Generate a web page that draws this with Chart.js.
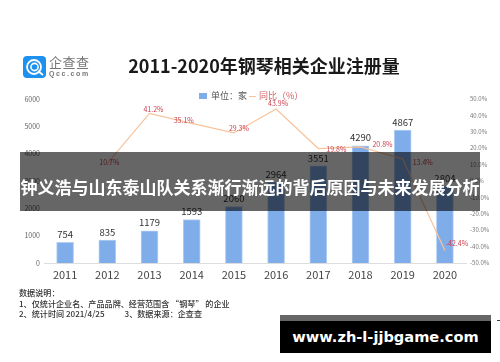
<!DOCTYPE html>
<html lang="zh-CN">
<head>
    <meta charset="UTF-8">
    <title>2011-2020年钢琴相关企业注册量</title>
    <script src="https://cdn.jsdelivr.net/npm/chart.js"></script>
    <style>
        html, body { margin: 0; padding: 0; background: #fff; }
        body { width: 500px; height: 362px; position: relative; overflow: hidden; font-family: "Noto Sans CJK SC", sans-serif; }
        #soft { position: absolute; left: 0; top: 0; width: 500px; height: 362px; filter: blur(0.5px); }
        #chartBox { position: absolute; left: 0; top: 0; width: 500px; height: 362px; }
        #logo { position: absolute; left: 23px; top: 56px; }
        #logoName { position: absolute; left: 49px; top: 54px; font-size: 13px; line-height: 16px; color: #777; letter-spacing: 0.5px; }
        #logoUrl { position: absolute; left: 49px; top: 69px; font: bold 7px/9px "Liberation Sans", sans-serif; color: #777; letter-spacing: 1.6px; }
        #title { position: absolute; left: 64px; top: 52px; width: 400px; text-align: center; font-size: 18px; line-height: 26px; font-weight: 700; color: #1a1a1a; white-space: nowrap; }
        #legend { position: absolute; left: 0; top: 89px; width: 500px; height: 14px; font-size: 9px; line-height: 14px; white-space: nowrap; }
        #legend span, #legend i { position: absolute; }
        #legendBox { left: 199px; top: 4px; width: 8px; height: 6px; background: #7fadea; }
        #legendBar { left: 211px; color: #555; }
        #legendDash { left: 249px; top: 7px; width: 7px; height: 1px; background: #f8c39b; }
        #legendYoy { left: 259px; color: #d0605f; }
        #notes { position: absolute; left: 19px; top: 288px; font-size: 8.1px; line-height: 10.5px; font-weight: 500; color: #333; white-space: pre; }
        #band { position: absolute; left: 20px; top: 152px; width: 460px; height: 59px; background: rgba(0, 0, 0, 0.6); color: #fff; font-size: 17px; font-weight: 700; line-height: 70px; text-align: center; white-space: nowrap; }
        #site { position: absolute; left: 280px; top: 315px; width: 211px; height: 38px; background: #000; border-top: 6px solid #666; box-sizing: border-box; color: #fff; font: bold 14.6px/32px "DejaVu Sans", sans-serif; text-align: center; white-space: nowrap; }
        #speck { position: absolute; left: 497px; top: 320px; width: 3px; height: 1px; background: #345; }
    </style>
</head>
<body>
    <div id="soft">
        <div id="chartBox"><canvas id="registerChart"></canvas></div>
        <svg id="logo" width="23" height="22" viewBox="0 0 23 22">
            <rect width="23" height="22" rx="4" fill="#1e90ee"/>
            <circle cx="11" cy="11" r="7" fill="none" stroke="#fff" stroke-width="1.8"/>
            <circle cx="11.5" cy="11" r="3.6" fill="none" stroke="#fff" stroke-width="1.6"/>
            <path d="M15 15 L20 19" stroke="#fff" stroke-width="1.8"/>
        </svg>
        <div id="logoName">企查查</div>
        <div id="logoUrl">Qcc.com</div>
        <div id="title">2011-2020年钢琴相关企业注册量</div>
        <div id="legend">
            <i id="legendBox"></i><span id="legendBar">单位：家</span>
            <i id="legendDash"></i><span id="legendYoy">同比（%）</span>
        </div>
        <div id="notes">数据说明：
1、仅统计企业名、产品品牌、经营范围含 “钢琴” 的企业
2、统计时间 2021/4/25           3、数据来源：企查查</div>
    </div>
    <div id="band">钟义浩与山东泰山队关系渐行渐远的背后原因与未来发展分析</div>
    <div id="site">www.zh-l-jjbgame.com</div>
    <div id="speck"></div>

    <script>
        const years = ['2011', '2012', '2013', '2014', '2015', '2016', '2017', '2018', '2019', '2020'];
        const registered = [754, 835, 1179, 1593, 2060, 2964, 3551, 4290, 4867, 2804];
        const yoy = [null, 10.7, 41.2, 35.1, 29.3, 43.9, 19.8, 20.8, 13.4, -42.4];

        // where each yoy label sits relative to its point
        const yoyLabelOffsets = [null, [2, -1], [4, -4], [-8, -3], [5, -5], [2, -6], [18, 1], [22, -3], [20, 3], [12, -7]];

        const valueLabels = {
            id: 'valueLabels',
            afterDatasetsDraw(chart) {
                const ctx = chart.ctx;
                ctx.save();
                ctx.textAlign = 'center';
                ctx.textBaseline = 'middle';

                ctx.font = '9.5px "Noto Sans CJK SC"';
                ctx.fillStyle = '#333';
                chart.getDatasetMeta(0).data.forEach((bar, i) => {
                    ctx.fillText(registered[i], bar.x, bar.y - 8);
                });

                ctx.font = '7px "Noto Sans CJK SC"';
                ctx.fillStyle = '#c8434f';
                chart.getDatasetMeta(1).data.forEach((pt, i) => {
                    if (yoy[i] === null) return;
                    const off = yoyLabelOffsets[i];
                    ctx.fillText(yoy[i].toFixed(1) + '%', pt.x + off[0], pt.y + off[1]);
                });
                ctx.restore();
            }
        };

        new Chart(document.getElementById('registerChart'), {
            data: {
                labels: years,
                datasets: [
                    {
                        type: 'bar',
                        label: '单位：家',
                        data: registered,
                        yAxisID: 'y',
                        backgroundColor: '#7fadea',
                        borderColor: '#b5cff3',
                        borderWidth: 1,
                        barThickness: 17,
                        order: 2
                    },
                    {
                        type: 'line',
                        label: '同比（%）',
                        data: yoy,
                        yAxisID: 'y1',
                        borderColor: '#f8c39b',
                        borderWidth: 1.2,
                        pointRadius: 0,
                        tension: 0,
                        order: 1
                    }
                ]
            },
            options: {
                responsive: true,
                maintainAspectRatio: false,
                animation: false,
                layout: { padding: { top: 99 } },
                plugins: {
                    tooltip: { enabled: false },
                    title: { display: false },
                    legend: { display: false }
                },
                scales: {
                    x: {
                        grid: { display: false, drawTicks: false },
                        border: { color: '#ddd' },
                        ticks: { color: '#444', font: { family: '"Noto Sans CJK SC"', size: 11 }, padding: 5, maxRotation: 0 },
                        afterFit(axis) { axis.height = 99; }
                    },
                    y: {
                        position: 'left',
                        min: 0,
                        max: 6000,
                        grid: { display: false, drawTicks: false },
                        border: { display: false },
                        ticks: {
                            stepSize: 1000,
                            color: '#666',
                            font: { family: '"Noto Sans CJK SC"', size: 7 },
                            padding: 4,
                            callback: v => String(v)
                        },
                        afterFit(axis) { axis.width = 44; }
                    },
                    y1: {
                        position: 'right',
                        min: -50,
                        max: 50,
                        grid: { display: false, drawTicks: false },
                        border: { display: false },
                        ticks: {
                            stepSize: 10,
                            color: '#777',
                            font: { family: '"Noto Sans CJK SC"', size: 6 },
                            padding: 4,
                            callback: v => v.toFixed(1) + '%'
                        },
                        afterFit(axis) { axis.width = 34; }
                    }
                }
            },
            plugins: [valueLabels]
        });
    </script>
</body>
</html>
